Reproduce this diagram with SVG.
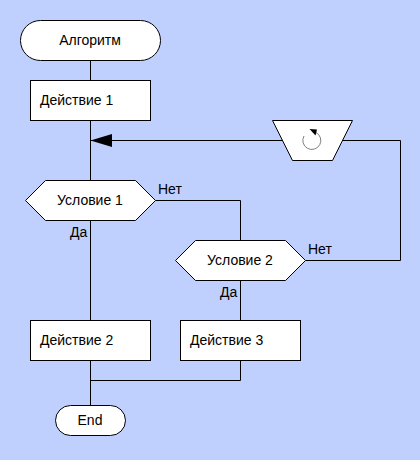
<svg xmlns="http://www.w3.org/2000/svg" width="420" height="460" viewBox="0 0 420 460">
<style>
.n{fill:#fff;stroke:#000;stroke-width:1}
.c{fill:none;stroke:#000;stroke-width:1}
text{font-family:"Liberation Sans",Arial,sans-serif;font-size:14px;fill:#000}
.m{text-anchor:middle}
</style>
<rect x="0" y="0" width="420" height="460" fill="#bfd0ff"/>
<g id="connectors">
<path class="c" d="M90.500 60V80M90.500 120V180M90.500 220V320M90.500 360V405M155.500 200.500H240.500V240M240.500 280V320M240.500 360V380.500H90.500M305.500 260.500H400.500V140.500H330M285 140.500H91"/>
<polygon points="90.500,140.500 112,134 112,147" fill="#000"/>
</g>
<g id="start"><rect class="n" x="20.500" y="20.500" width="140" height="40" rx="20" ry="20"/><text class="m" x="90" y="45">Алгоритм</text></g>
<g id="action1"><rect class="n" x="30.500" y="80.500" width="120" height="40"/><text x="40" y="105">Действие 1</text></g>
<g id="loop"><polygon class="n" points="272.500,120.500 352.500,120.500 332.500,160.500 292.500,160.500"/>
<path d="M316 132.500A9 9 0 1 1 304 136" fill="none" stroke="#808080" stroke-width="1"/>
<path d="M309.500 129L317 129.500L315.500 135.500Z" fill="#000"/></g>
<g id="cond1"><polygon class="n" points="25.500,200.500 45.500,180.500 135.500,180.500 155.500,200.500 135.500,220.500 45.500,220.500"/><text class="m" x="90" y="205">Условие 1</text></g>
<g id="cond2"><polygon class="n" points="175.500,260.500 195.500,240.500 285.500,240.500 305.500,260.500 285.500,280.500 195.500,280.500"/><text class="m" x="240" y="265">Условие 2</text></g>
<g id="action2"><rect class="n" x="30.500" y="320.500" width="120" height="40"/><text x="40" y="345">Действие 2</text></g>
<g id="action3"><rect class="n" x="180.500" y="320.500" width="120" height="40"/><text x="190" y="345">Действие 3</text></g>
<g id="end"><rect class="n" x="55.500" y="405.500" width="70" height="30" rx="15" ry="15"/><text class="m" x="90" y="425">End</text></g>
<g id="labels">
<text x="158" y="194">Нет</text>
<text x="70" y="237">Да</text>
<text x="308" y="254">Нет</text>
<text x="220" y="297">Да</text>
</g>
</svg>
